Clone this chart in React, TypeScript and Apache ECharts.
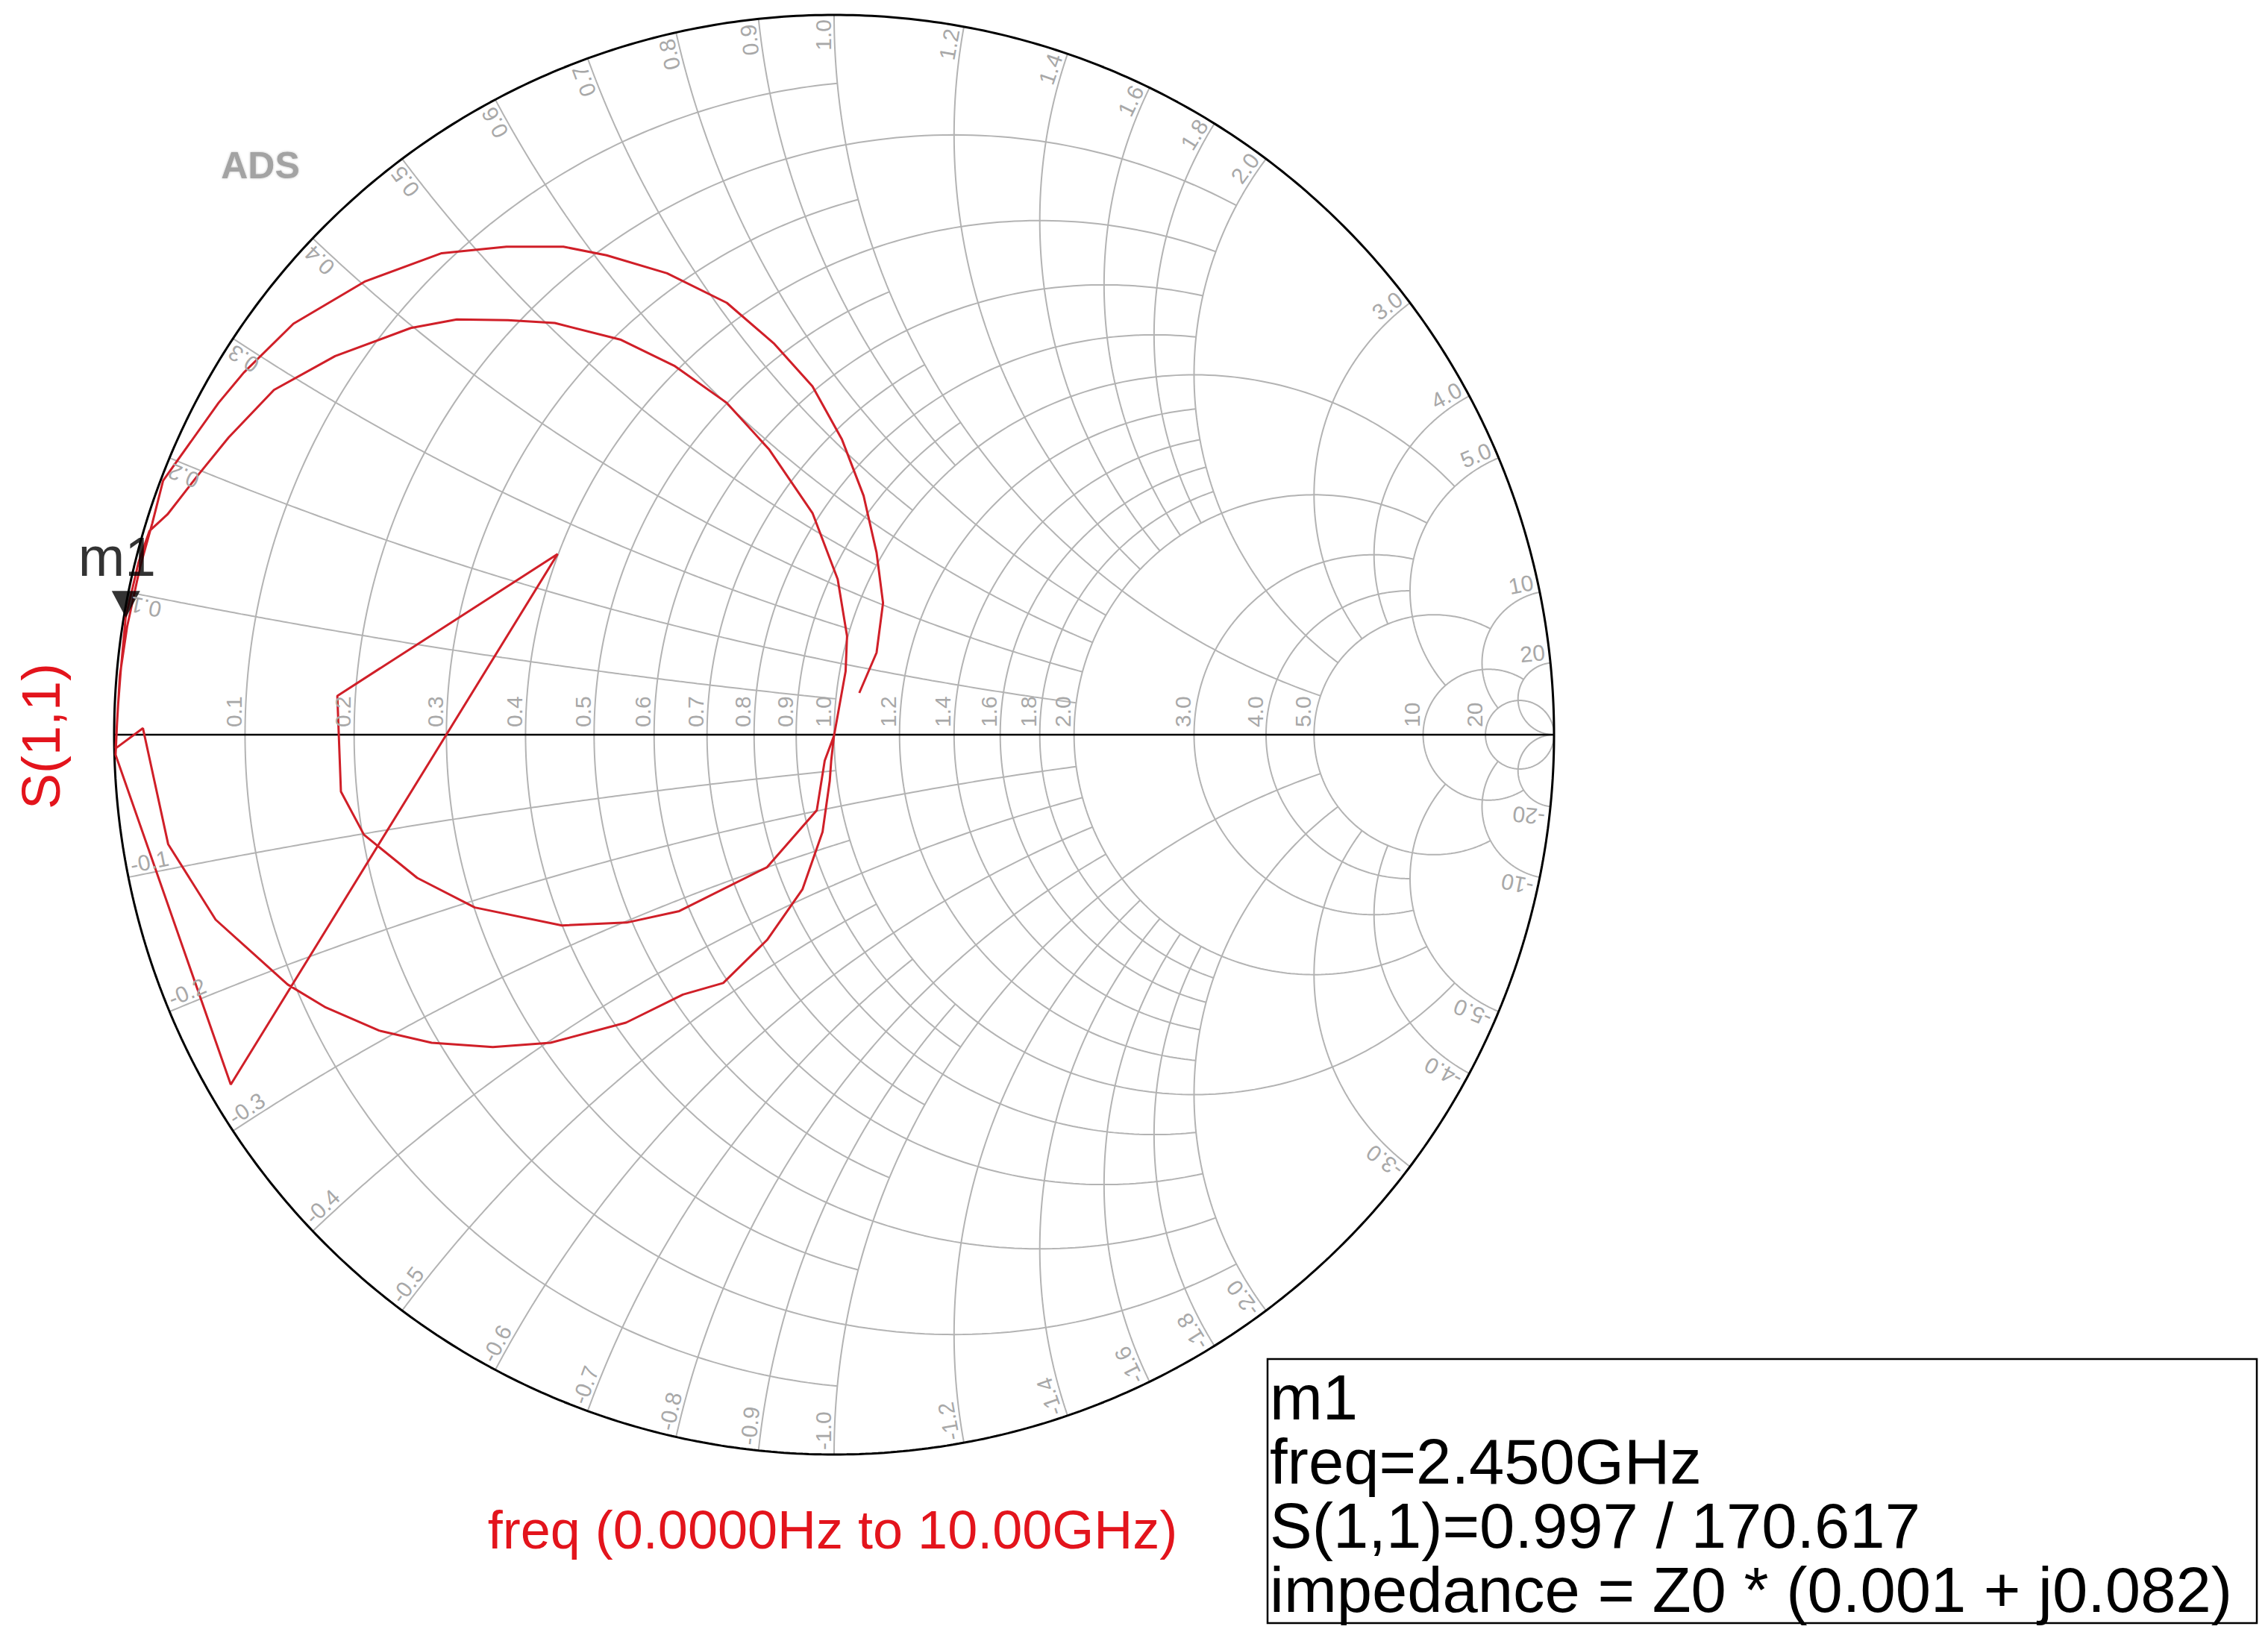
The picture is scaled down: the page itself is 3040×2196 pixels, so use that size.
import React, { useEffect, useRef } from "react";
import * as echarts from "echarts";

const W = 3040;
const H = 2196;

// ---- Smith chart grid ticks (normalised impedance) ----
const RES_TICKS = [0.1, 0.2, 0.3, 0.4, 0.5, 0.6, 0.7, 0.8, 0.9, 1.0, 1.2, 1.4, 1.6, 1.8, 2.0, 3.0, 4.0, 5.0, 10, 20];
const RES_LABELS = ["0.1", "0.2", "0.3", "0.4", "0.5", "0.6", "0.7", "0.8", "0.9", "1.0", "1.2", "1.4", "1.6", "1.8", "2.0", "3.0", "4.0", "5.0", "10", "20"];
// |reactance| at which each resistance circle is cut off
const RES_STOP = [1, 2, 1, 2, 1, 2, 1, 2, 1, 5, 2, 2, 2, 2, 5, 5, 5, 10, 20, Infinity];
const REACT_TICKS = [0.1, 0.2, 0.3, 0.4, 0.5, 0.6, 0.7, 0.8, 0.9, 1.0, 1.2, 1.4, 1.6, 1.8, 2.0, 3.0, 4.0, 5.0, 10, 20];
const REACT_LABELS = ["0.1", "0.2", "0.3", "0.4", "0.5", "0.6", "0.7", "0.8", "0.9", "1.0", "1.2", "1.4", "1.6", "1.8", "2.0", "3.0", "4.0", "5.0", "10", "20"];
// resistance at which each reactance arc is cut off
const REACT_STOP = [1, 2, 1, 2, 1, 2, 1, 2, 1, 5, 2, 2, 2, 2, 5, 5, 5, 10, 20, Infinity];

// ---- S(1,1) trace, reflection coefficient (real, imag), frequency order ----
const S11_RE = [
  0.0, -0.004, -0.006, -0.016, -0.044, -0.093, -0.154, -0.21, -0.289, -0.394,
  -0.474, -0.559, -0.632, -0.706, -0.759, -0.859, -0.925, -0.96, -0.998, -0.997,
  -0.995, -0.991, -0.984, -0.966, -0.951, -0.926, -0.884, -0.841, -0.778, -0.693,
  -0.588, -0.524, -0.453, -0.388, -0.297, -0.221, -0.149, -0.09, -0.03, 0.005,
  0.018, 0.016, 0.0, -0.013, -0.024, -0.093, -0.215, -0.288, -0.378, -0.499,
  -0.579, -0.653, -0.685, -0.69, -0.384, -0.838, -0.998, -0.996, -0.992, -0.982,
  -0.964, -0.947, -0.932, -0.855, -0.82, -0.751, -0.651, -0.545, -0.455, -0.376,
  -0.316, -0.232, -0.149, -0.084, -0.03, 0.011, 0.041, 0.059, 0.068, 0.059, 0.035
];
const S11_IM = [
  0.0, -0.036, -0.064, -0.135, -0.215, -0.285, -0.345, -0.361, -0.4, -0.428,
  -0.434, -0.428, -0.411, -0.379, -0.347, -0.257, -0.152, 0.009, -0.019, 0.0,
  0.035, 0.087, 0.163, 0.24, 0.283, 0.306, 0.36, 0.413, 0.479, 0.526,
  0.565, 0.577, 0.576, 0.572, 0.549, 0.512, 0.461, 0.396, 0.308, 0.216,
  0.137, 0.088, -0.001, -0.036, -0.105, -0.184, -0.245, -0.261, -0.265, -0.24,
  -0.199, -0.139, -0.079, 0.054, 0.251, -0.486, -0.028, 0.016, 0.083, 0.15,
  0.233, 0.294, 0.353, 0.461, 0.503, 0.571, 0.63, 0.669, 0.678, 0.678,
  0.666, 0.641, 0.6, 0.544, 0.484, 0.41, 0.332, 0.253, 0.183, 0.114, 0.058
];

// ---- marker m1 ----
const M1_MAG = 0.997;
const M1_ANG_DEG = 170.617;
const LEGEND_LINES = ["m1", "freq=2.450GHz", "S(1,1)=0.997 / 170.617", "impedance = Z0 * (0.001 + j0.082)"];
const TRACE_NAME = "S(1,1)";
const SWEEP_TEXT = "freq (0.0000Hz to 10.00GHz)";

// ---- styling ----
const FONT = "'Liberation Sans', Arial, Helvetica, sans-serif";
const GRID_COLOR = "#b3b3b3";
const LABEL_COLOR = "#a8a8a8";
const TRACE_COLOR = "#d01f28";
const TEXT_RED = "#e3141c";
const GRID_LEFT = 153;
const GRID_TOP = 20;
const GRID_SIZE = 1930;

// z = r + jx  ->  gamma = (z-1)/(z+1)
function gam(r: number, x: number): [number, number] {
  const den = (r + 1) * (r + 1) + x * x;
  return [(r * r - 1 + x * x) / den, (2 * x) / den];
}
const norm = (a: number) => ((a % (2 * Math.PI)) + 2 * Math.PI) % (2 * Math.PI);

function resistanceArc(r: number, xStop: number): number[][] {
  const cx = r / (1 + r);
  const R = 1 / (1 + r);
  let th0 = 0;
  if (isFinite(xStop)) {
    const [gr, gi] = gam(r, xStop);
    th0 = Math.atan2(gi, gr - cx);
  }
  const pts: number[][] = [];
  const N = 260;
  for (let i = 0; i <= N; i++) {
    const t = th0 + ((2 * Math.PI - 2 * th0) * i) / N;
    pts.push([cx + R * Math.cos(t), R * Math.sin(t)]);
  }
  return pts;
}

function reactanceArc(x: number, rStop: number, sign: number): number[][] {
  const R = 1 / x;
  const [g0r, g0i] = gam(0, x);
  const a0 = norm(Math.atan2(g0i - R, g0r - 1));
  let a1 = 1.5 * Math.PI;
  if (isFinite(rStop)) {
    const [g1r, g1i] = gam(rStop, x);
    a1 = norm(Math.atan2(g1i - R, g1r - 1));
  }
  const pts: number[][] = [];
  const N = 200;
  for (let i = 0; i <= N; i++) {
    const a = a0 + ((a1 - a0) * i) / N;
    pts.push([1 + R * Math.cos(a), sign * (R + R * Math.sin(a))]);
  }
  return pts;
}

function buildOption(): any {
  const series: any[] = [];
  const gridLine = (data: number[][]) => ({
    type: "line",
    data,
    symbol: "none",
    showSymbol: false,
    silent: true,
    clip: false,
    z: 1,
    lineStyle: { color: GRID_COLOR, width: 2 },
  });
  RES_TICKS.forEach((r, i) => series.push(gridLine(resistanceArc(r, RES_STOP[i]))));
  REACT_TICKS.forEach((x, i) => {
    series.push(gridLine(reactanceArc(x, REACT_STOP[i], 1)));
    series.push(gridLine(reactanceArc(x, REACT_STOP[i], -1)));
  });
  // outer circle
  const circ: number[][] = [];
  for (let i = 0; i <= 720; i++) {
    const t = (i / 720) * 2 * Math.PI;
    circ.push([Math.cos(t), Math.sin(t)]);
  }
  series.push({
    type: "line", data: circ, symbol: "none", silent: true, clip: false, z: 2,
    lineStyle: { color: "#000", width: 3 },
  });
  // real axis
  series.push({
    type: "line", data: [[-1, 0], [1, 0]], symbol: "none", silent: true, clip: false, z: 2,
    lineStyle: { color: "#000", width: 2.5 },
  });
  // trace
  series.push({
    type: "line",
    name: TRACE_NAME,
    data: S11_RE.map((v, i) => [v, S11_IM[i]]),
    symbol: "none",
    silent: true,
    clip: false,
    z: 5,
    lineStyle: { color: TRACE_COLOR, width: 3 },
  });
  // marker
  const a = (M1_ANG_DEG * Math.PI) / 180;
  series.push({
    type: "scatter",
    data: [[M1_MAG * Math.cos(a), M1_MAG * Math.sin(a)]],
    symbol: "path://M0 0L38 0L19 36Z",
    symbolSize: [38, 36],
    symbolOffset: [0, -18],
    itemStyle: { color: "#000" },
    silent: true,
    clip: false,
    z: 8,
    label: {
      show: true,
      formatter: "m1",
      position: "top",
      distance: 9,
      offset: [-12, 0],
      color: "#000",
      fontSize: 75,
      fontFamily: FONT,
    },
  });

  return {
    animation: false,
    backgroundColor: "#ffffff",
    grid: { left: GRID_LEFT, top: GRID_TOP, width: GRID_SIZE, height: GRID_SIZE },
    xAxis: { type: "value", min: -1, max: 1, show: false },
    yAxis: { type: "value", min: -1, max: 1, show: false },
    series,
  };
}

function buildGraphics(toPx: (p: number[]) => number[]): any[] {
  const g: any[] = [];
  const lab = (text: string, x: number, y: number, rotation: number, align: string) => ({
    type: "text",
    x,
    y,
    rotation,
    silent: true,
    z: 20,
    style: { text, fill: LABEL_COLOR, fontSize: 30, fontFamily: FONT, align, verticalAlign: "bottom" },
  });
  RES_TICKS.forEach((r, i) => {
    const p = toPx([(r - 1) / (r + 1), 0]);
    g.push(lab(RES_LABELS[i], p[0], p[1] - 10, Math.PI / 2, "left"));
  });
  const k = 1 - 6 / 965;
  REACT_TICKS.forEach((x, i) => {
    const [gr, gi] = gam(0, x);
    const phi = Math.atan2(gi, gr);
    const up = toPx([k * Math.cos(phi), k * Math.sin(phi)]);
    g.push(lab(REACT_LABELS[i], up[0], up[1], phi, "right"));
    const lo = toPx([k * Math.cos(phi), -k * Math.sin(phi)]);
    g.push(lab("-" + REACT_LABELS[i], lo[0], lo[1], Math.PI - phi, "left"));
  });

  // ADS watermark
  g.push({
    type: "text", x: 349, y: 222, silent: true, z: 20,
    style: {
      text: "ADS", fill: "#a3a3a3", fontSize: 50, fontWeight: "bold", fontFamily: FONT,
      align: "center", verticalAlign: "middle", textShadowColor: "rgba(0,0,0,0.25)", textShadowBlur: 3,
    },
  });
  // trace name (vertical)
  g.push({
    type: "text", x: 55, y: 987, rotation: Math.PI / 2, silent: true, z: 20,
    style: { text: TRACE_NAME, fill: TEXT_RED, fontSize: 72, fontFamily: FONT, align: "center", verticalAlign: "middle" },
  });
  // sweep text
  g.push({
    type: "text", x: 1116, y: 2087, silent: true, z: 20,
    style: { text: SWEEP_TEXT, fill: TEXT_RED, fontSize: 72, fontFamily: FONT, align: "center", verticalAlign: "bottom" },
  });
  // marker readout box
  g.push({
    type: "rect", silent: true, z: 20,
    shape: { x: 1699, y: 1822, width: 1326, height: 354 },
    style: { fill: "#fff", stroke: "#000", lineWidth: 2.5 },
  });
  const baselines = [1897, 1983, 2069, 2155];
  LEGEND_LINES.forEach((t, i) => {
    g.push({
      type: "text", x: 1702, y: baselines[i] + 15, silent: true, z: 21,
      style: {
        text: t, fill: "#000", fontSize: 85, lineHeight: 78, fontFamily: FONT,
        align: "left", verticalAlign: "bottom",
      },
    });
  });
  return g;
}

export default function App() {
  const ref = useRef<HTMLDivElement>(null);
  useEffect(() => {
    if (!ref.current) return;
    const chart = echarts.init(ref.current, null, { renderer: "svg" });
    chart.setOption(buildOption());
    const toPx = (p: number[]) => chart.convertToPixel({ gridIndex: 0 }, p) as number[];
    chart.setOption({ graphic: buildGraphics(toPx) });
    return () => chart.dispose();
  }, []);
  return (
    <div
      ref={ref}
      style={{ position: "fixed", left: 0, top: 0, width: W + "px", height: H + "px", background: "#fff" }}
    />
  );
}
